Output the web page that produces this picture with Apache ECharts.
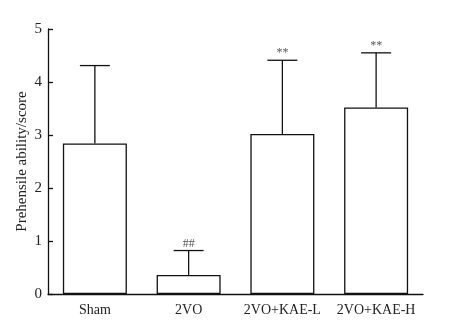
<!DOCTYPE html>
<html>
<head>
<meta charset="utf-8">
<script src="https://cdn.jsdelivr.net/npm/echarts@6/dist/echarts.min.js"></script>
<style>
html, body { margin: 0; padding: 0; background: #fff; }
#chart { width: 449px; height: 331px; }
</style>
</head>
<body>
<div id="chart"></div>
<script>
// data
var groups = ['Sham', '2VO', '2VO+KAE-L', '2VO+KAE-H'];
var means = [2.84, 0.36, 3.02, 3.52];
var errTops = [4.31, 0.82, 4.41, 4.55];
var marks = ['', '##', '**', '**'];
var yTicks = [0, 1, 2, 3, 4, 5];

var serif = '"Liberation Serif", "DejaVu Serif", serif';
var myChart = echarts.init(document.getElementById('chart'));

function renderErr(params, api) {
	var i = api.value(0);
	var base = api.coord([i, api.value(1)]);
	var top = api.coord([i, api.value(2)]);
	var half = 15;
	var kids = [
		{ type: 'line', shape: { x1: base[0], y1: base[1], x2: top[0], y2: top[1] },
		  style: { stroke: '#111', lineWidth: 1.3 } },
		{ type: 'line', shape: { x1: top[0] - half, y1: top[1], x2: top[0] + half, y2: top[1] },
		  style: { stroke: '#111', lineWidth: 1.3 } }
	];
	if (marks[i]) {
		kids.push({ type: 'text', x: top[0], y: top[1] - 1,
			style: { text: marks[i], fill: '#555', font: '12px ' + serif, align: 'center', verticalAlign: 'bottom' } });
	}
	return { type: 'group', children: kids };
}

var errData = groups.map(function(g, i) { return [i, means[i], errTops[i]]; });

var option = {
	animation: false,
	grid: { left: 48, right: 26, top: 29, bottom: 37 },
	xAxis: {
		type: 'category',
		data: groups,
		boundaryGap: true,
		axisLine: { show: true, lineStyle: { color: '#111', width: 1.3 } },
		axisTick: { show: false },
		axisLabel: { color: '#222', fontFamily: serif, fontSize: 14, margin: 9, interval: 0 }
	},
	yAxis: {
		type: 'value',
		min: 0, max: 5, interval: 1,
		name: 'Prehensile ability/score',
		nameLocation: 'middle',
		nameRotate: 90,
		nameGap: 18,
		nameMoveOverlap: false,
		nameTextStyle: { color: '#222', fontFamily: serif, fontSize: 15 },
		axisLine: { show: true, lineStyle: { color: '#111', width: 1.3 } },
		axisTick: { show: true, inside: true, length: 5, lineStyle: { color: '#111', width: 1.3 } },
		axisLabel: { color: '#222', fontFamily: serif, fontSize: 15, margin: 6,
			formatter: function(v) { return yTicks.indexOf(v) >= 0 ? String(v) : ''; } },
		splitLine: { show: false }
	},
	series: [
		{
			type: 'bar',
			data: means,
			barWidth: 64,
			itemStyle: { color: '#fff', borderColor: '#111', borderWidth: 1.3 }
		},
		{
			type: 'custom',
			renderItem: renderErr,
			data: errData,
			encode: { x: 0, y: [1, 2] },
			z: 5
		}
	]
};
myChart.setOption(option);
</script>
</body>
</html>
